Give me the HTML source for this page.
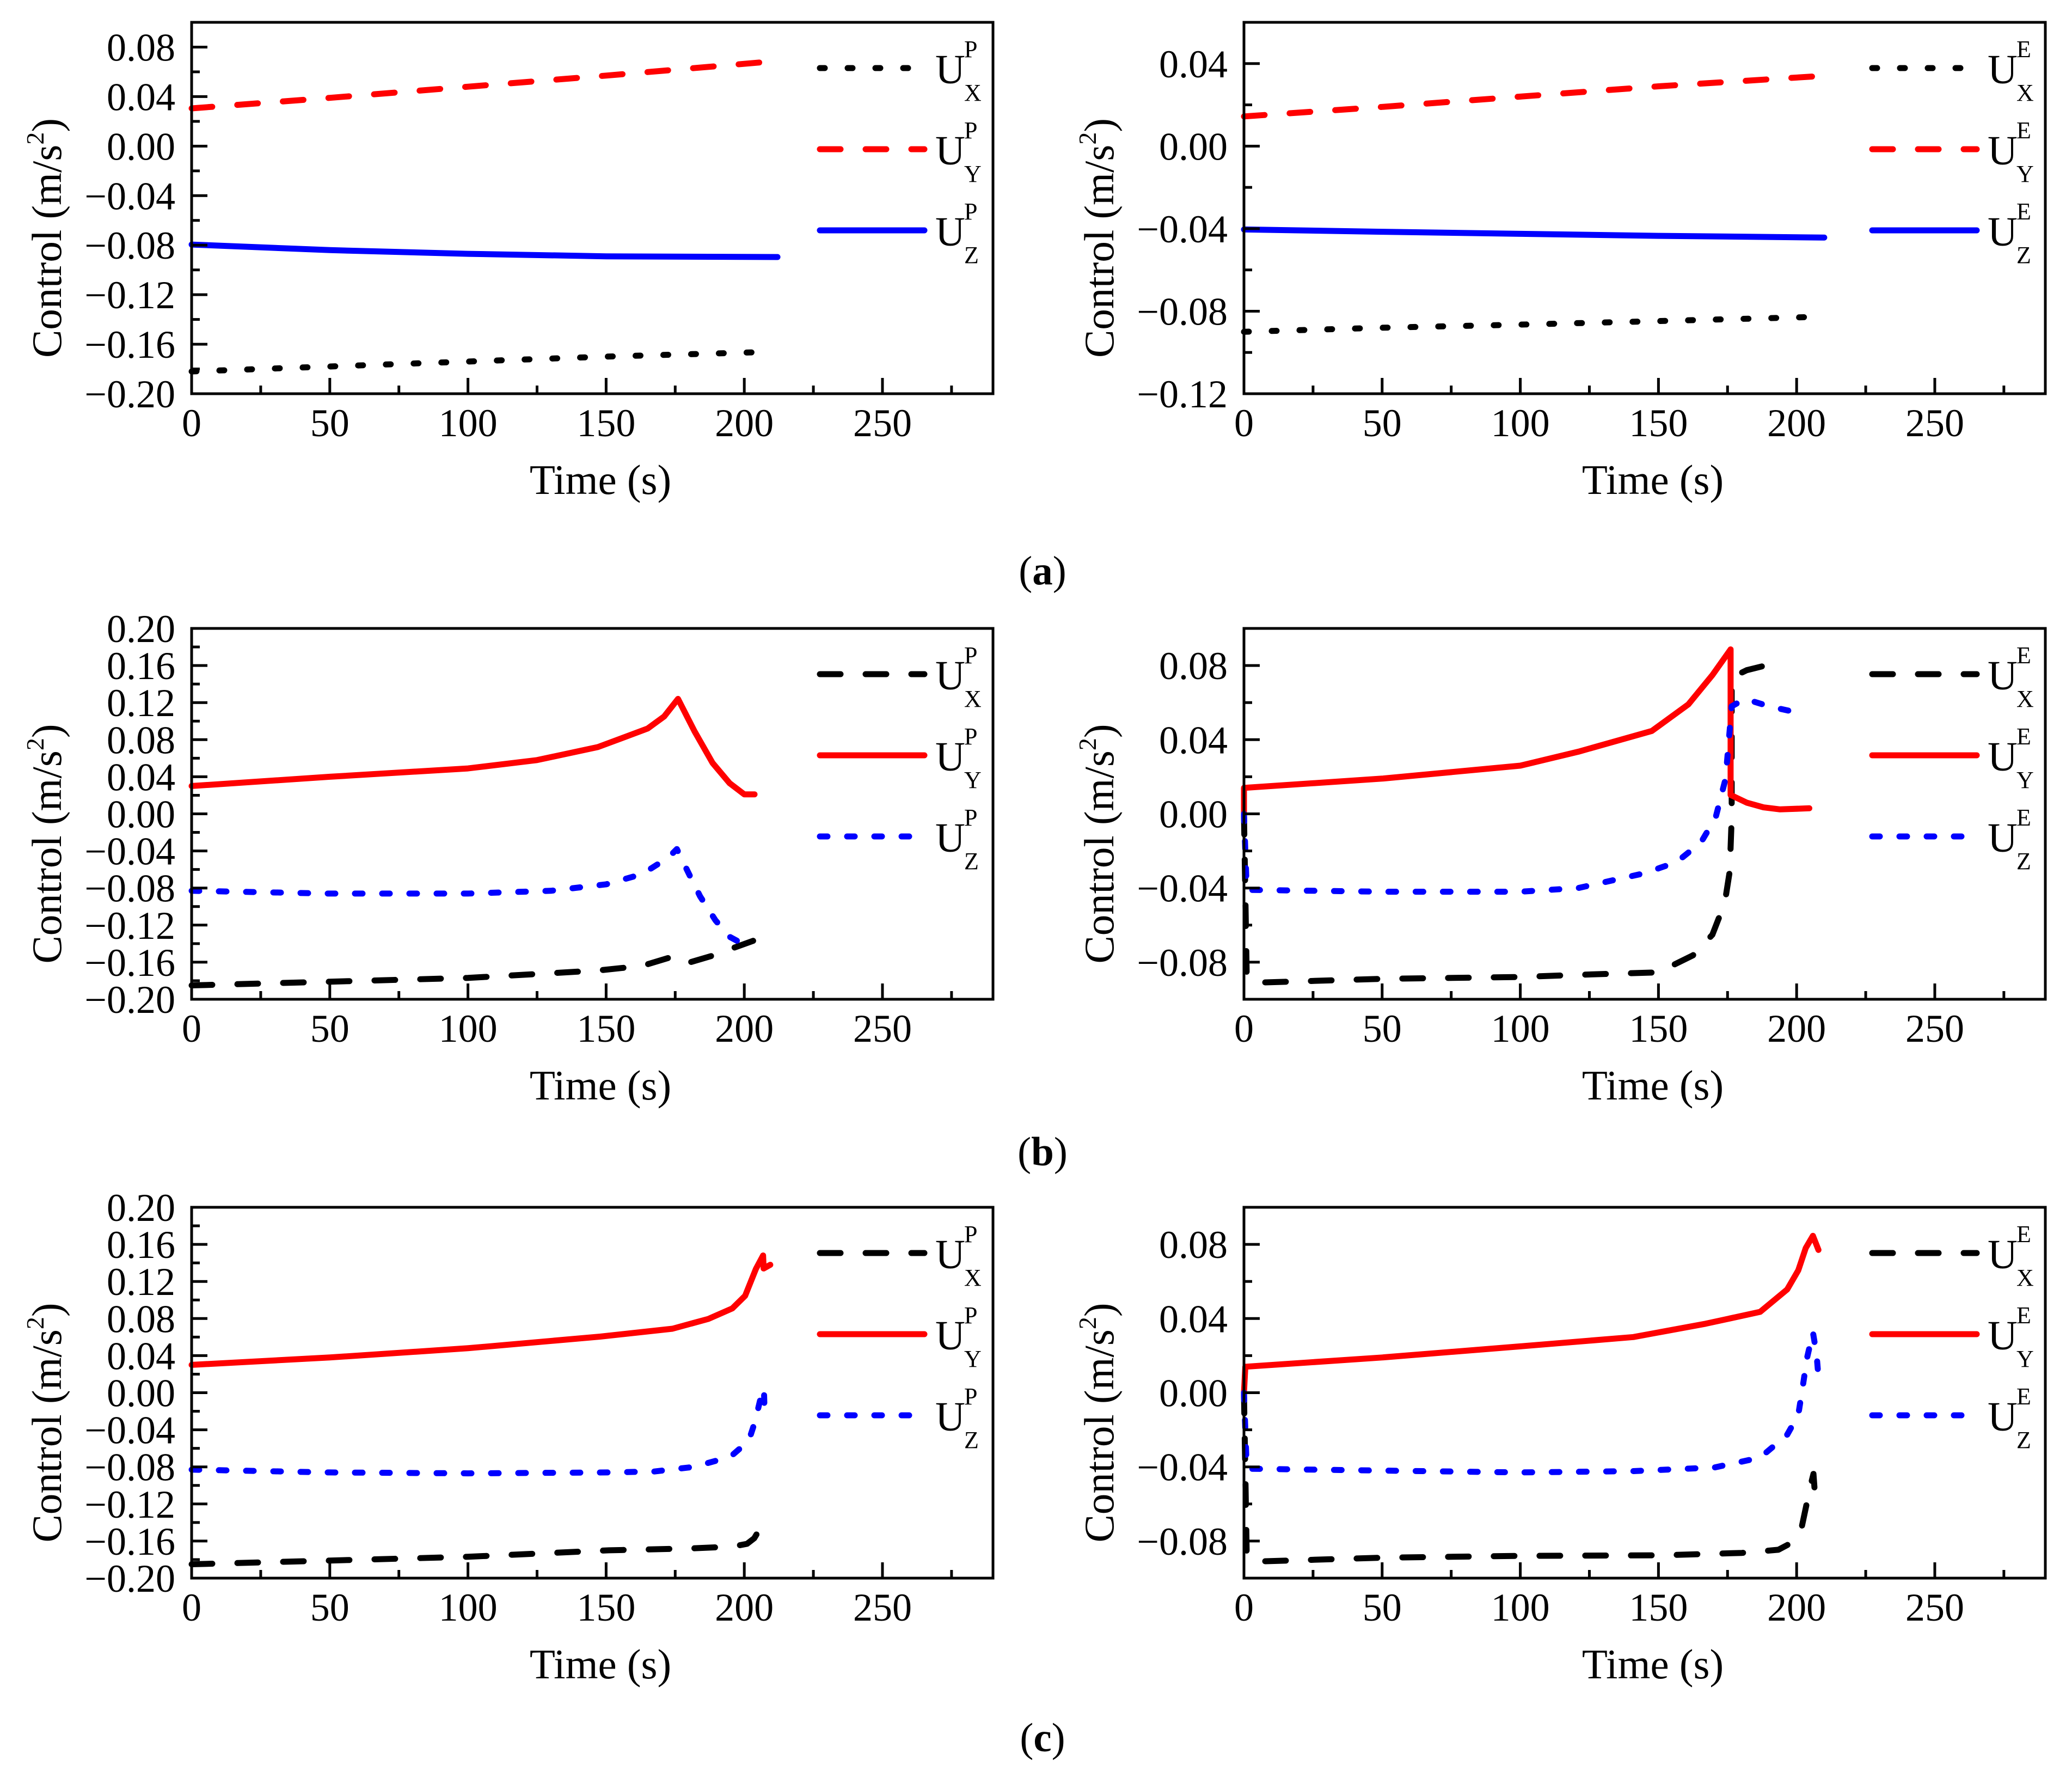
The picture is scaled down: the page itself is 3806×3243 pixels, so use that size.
<!DOCTYPE html>
<html><head><meta charset="utf-8"><title>Control histories</title>
<style>html,body{margin:0;padding:0;background:#fff}svg{display:block}text{font-family:"Liberation Serif",serif;fill:#000}</style>
</head><body>
<svg id="fig" xmlns="http://www.w3.org/2000/svg" width="3806" height="3243" viewBox="0 0 3806 3243">
<rect width="3806" height="3243" fill="#fff"/>
<text x="1915" y="1073" font-size="75" text-anchor="middle">(<tspan font-weight="bold">a</tspan>)</text>
<text x="1915" y="2140" font-size="75" text-anchor="middle">(<tspan font-weight="bold">b</tspan>)</text>
<text x="1915" y="3216" font-size="75" text-anchor="middle">(<tspan font-weight="bold">c</tspan>)</text>
</svg>
<script>
// ---- data (time in s, control in m/s^2) ----
const xTicks = [0,50,100,150,200,250];
const yTicksWide = ["0.20","0.16","0.12","0.08","0.04","0.00","-0.04","-0.08","-0.12","-0.16","-0.20"];
const yTicksAL = ["0.08","0.04","0.00","-0.04","-0.08","-0.12","-0.16","-0.20"];
const yTicksAR = ["0.04","0.00","-0.04","-0.08","-0.12"];
const yTicksNarrow = ["0.08","0.04","0.00","-0.04","-0.08"];

const aL_ux_t = [0,50,100,150,205];
const aL_ux = [-0.182,-0.178,-0.174,-0.170,-0.1665];
const aL_uy_t = [0,50,100,150,208];
const aL_uy = [0.0305,0.039,0.048,0.057,0.068];
const aL_uz_t = [0,50,100,150,212];
const aL_uz = [-0.0795,-0.084,-0.087,-0.089,-0.0896];

const aR_ux_t = [0,50,100,150,205.5];
const aR_ux = [-0.090,-0.088,-0.0865,-0.0848,-0.0828];
const aR_uy_t = [0,50,100,150,209];
const aR_uy = [0.0144,0.019,0.024,0.029,0.034];
const aR_uz_t = [0,50,100,150,210];
const aR_uz = [-0.0404,-0.0415,-0.0425,-0.0435,-0.0443];

const bL_ux_t = [0,50,100,147,163,175.2,180.5,189.6,196.6,203.2];
const bL_ux = [-0.185,-0.181,-0.177,-0.169,-0.164,-0.153,-0.160,-0.152,-0.144,-0.137];
const bL_uy_t = [0,50,100,125,147,165,171,176,182,188.5,194.7,200,203.7];
const bL_uy = [0.030,0.040,0.049,0.058,0.072,0.092,0.105,0.124,0.089,0.055,0.033,0.021,0.021];
const bL_uz_t = [0,50,100,130,150,163,172.6,175.6,180,184,189.6,194.9,202.4];
const bL_uz = [-0.083,-0.086,-0.086,-0.083,-0.076,-0.065,-0.047,-0.038,-0.065,-0.089,-0.115,-0.133,-0.145];

const bR_ux_t = [0,1,5,50,100,121,150,162.5,169.5,174,175.8,176.5,176.5,182,196.1];
const bR_ux = [0,-0.088,-0.091,-0.089,-0.088,-0.0868,-0.0855,-0.0763,-0.0652,-0.048,-0.031,-0.002,0.0735,0.0775,0.0827];
const bR_uy_t = [0,0,50,100,121,147.6,160.8,169.6,176.1,176.1,182,188,194,204.6];
const bR_uy = [0,0.014,0.019,0.026,0.0335,0.0447,0.059,0.075,0.0887,0.0102,0.006,0.0035,0.0024,0.003];
const bR_uz_t = [0,1,50,100,121,145,156.6,165.4,170.7,174.3,176.5,181.3,190,199];
const bR_uz = [0,-0.041,-0.042,-0.042,-0.040,-0.032,-0.026,-0.0154,-0.002,0.019,0.058,0.062,0.058,0.055];

const cL_ux_t = [0,50,100,151,180.5,195.7,201,203.6,205.6,207.3];
const cL_ux = [-0.185,-0.181,-0.177,-0.170,-0.168,-0.166,-0.163,-0.157,-0.147,-0.151];
const cL_uy_t = [0,50,100,147.8,174,187,195.7,200.3,204.2,206.8,207,209.4];
const cL_uy = [0.030,0.038,0.048,0.0605,0.069,0.0796,0.091,0.1045,0.1335,0.148,0.134,0.138];
const cL_uz_t = [0,50,100,151,167.4,181.8,195,201.6,203.9,205.9,207.1,207.3];
const cL_uz = [-0.083,-0.086,-0.087,-0.086,-0.085,-0.080,-0.069,-0.052,-0.031,-0.006,0.0046,-0.016];

const cR_ux_t = [0,1,5,50,100,150.7,180.2,193.4,198.6,201.9,203.6,204.9,206.1,206.9];
const cR_ux = [0,-0.088,-0.091,-0.089,-0.088,-0.0877,-0.0864,-0.0847,-0.0806,-0.0721,-0.0602,-0.051,-0.0438,-0.0602];
const cR_uy_t = [0,0.5,50,100,140.9,167.1,186.8,196.6,200.6,203.3,205.9,207.9];
const cR_uy = [0,0.014,0.019,0.025,0.030,0.0372,0.0436,0.0557,0.066,0.078,0.0846,0.077];
const cR_uz_t = [0,1,50,100,140.9,170.4,186.8,196.6,200.6,202.2,203.8,205.9,207.2,207.9];
const cR_uz = [0,-0.041,-0.042,-0.043,-0.0423,-0.0403,-0.035,-0.0226,-0.012,0.0031,0.019,0.0326,0.021,0.0083];

// ---- styles ----
const NS = "http://www.w3.org/2000/svg";
const svg = document.getElementById('fig');
const STY = {
  dotBlack: {c:'#000', d:'9 42'},
  dashRed: {c:'#f00', d:'38 46'},
  solidBlue: {c:'#00f', d:null},
  dashBlack: {c:'#000', d:'38 46'},
  solidRed: {c:'#f00', d:null},
  dotBlue: {c:'#00f', d:'14 36'}
};

function mk(tag, attrs, parent){
  const e = document.createElementNS(NS, tag);
  for (const k in attrs) e.setAttribute(k, attrs[k]);
  (parent||svg).appendChild(e);
  return e;
}

function panel(p){
  const g = mk('g', {});
  
  
  const L=p.x, T=p.y, W=p.w, H=p.h;
  const sx = t => L + t/290*W;
  const sy = v => T + (p.ymax - v)/(p.ymax - p.ymin)*H;
  p.series.forEach(s=>{
    let d='';
    s.t.forEach((t,i)=>{ d += (i?'L':'M') + sx(t).toFixed(1) + ' ' + sy(s.v[i]).toFixed(1) + ' '; });
    const st = STY[s.style];
    const path = mk('path', {d:d, fill:'none', stroke:st.c, 'stroke-width':11, 'stroke-linecap':'round', 'stroke-linejoin':'round'}, g);
    if (st.d) path.setAttribute('stroke-dasharray', st.d);
    
    
  });
  const fr = mk('rect', {x:L, y:T, width:W, height:H, fill:'none', stroke:'#000', 'stroke-width':5}, g);
  
  
  for (let t=0; t<=290; t+=25){
    const major = t%50===0;
    const tk = mk('line', {x1:sx(t), x2:sx(t), y1:T+H, y2:T+H-(major?29:15), stroke:'#000', 'stroke-width':5}, g);
    
    
  }
  xTicks.forEach(t=>{
    const lb = mk('text', {x:sx(t), y:T+H+78, 'font-size':72, 'text-anchor':'middle'}, g);
    lb.textContent = String(t);
    
    
  });
  const n = Math.round((p.ymax-p.ymin)/0.02);
  for (let i=0;i<=n;i++){
    const v = p.ymin + i*0.02;
    const major = Math.abs(Math.round(v*100)) % 4 === 0;
    const tk = mk('line', {x1:L, x2:L+(major?29:15), y1:sy(v), y2:sy(v), stroke:'#000', 'stroke-width':5}, g);
    
    
  }
  p.ylabels.forEach(s=>{
    const v = parseFloat(s);
    const lb = mk('text', {x:L-30, y:sy(v)+25, 'font-size':72, 'text-anchor':'end'}, g);
    lb.textContent = s.replace('-', '\u2212');
    
    
  });
  const xt = mk('text', {x:L+W/2+15, y:T+H+184, 'font-size':77, 'text-anchor':'middle'}, g);
  xt.textContent = 'Time (s)';
  
  
  const cx = L-240, cy = T+H/2+55;
  const yt = mk('text', {x:cx, y:cy, 'font-size':77, 'text-anchor':'middle', transform:'rotate(-90 '+cx+' '+cy+')'}, g);
  yt.innerHTML = 'Control (m/s<tspan dy="-32" font-size="46">2</tspan><tspan dy="32">)</tspan>';
  
  
  const subs = ['X','Y','Z'];
  p.series.forEach((s,i)=>{
    const ly = T + 84 + i*149;
    const st = STY[s.style];
    const ll = mk('line', {x1:L+1154, x2:L+1346, y1:ly, y2:ly, stroke:st.c, 'stroke-width':11, 'stroke-linecap':'round'}, g);
    if (st.d) ll.setAttribute('stroke-dasharray', st.d);
    
    
    const u = mk('text', {x:L+1366, y:ly+28, 'font-size':76}, g);
    u.textContent = 'U';
    
    
    const sp = mk('text', {x:L+1419, y:ly-20, 'font-size':44}, g);
    sp.textContent = p.sup;
    
    
    const sb = mk('text', {x:L+1419, y:ly+60, 'font-size':44}, g);
    sb.textContent = subs[i];
    
    
  });
}

const LX = 352, RX = 2285, PW = 1472;
panel({name:'panel-a-pursuer', x:LX, y:41, w:PW, h:682, ymin:-0.2, ymax:0.1, ylabels:yTicksAL, sup:'P',
  series:[{name:'series-ux',style:'dotBlack',t:aL_ux_t,v:aL_ux},{name:'series-uy',style:'dashRed',t:aL_uy_t,v:aL_uy},{name:'series-uz',style:'solidBlue',t:aL_uz_t,v:aL_uz}]});
panel({name:'panel-a-evader', x:RX, y:41, w:PW, h:682, ymin:-0.12, ymax:0.06, ylabels:yTicksAR, sup:'E',
  series:[{name:'series-ux',style:'dotBlack',t:aR_ux_t,v:aR_ux},{name:'series-uy',style:'dashRed',t:aR_uy_t,v:aR_uy},{name:'series-uz',style:'solidBlue',t:aR_uz_t,v:aR_uz}]});
panel({name:'panel-b-pursuer', x:LX, y:1154, w:PW, h:681, ymin:-0.2, ymax:0.2, ylabels:yTicksWide, sup:'P',
  series:[{name:'series-ux',style:'dashBlack',t:bL_ux_t,v:bL_ux},{name:'series-uy',style:'solidRed',t:bL_uy_t,v:bL_uy},{name:'series-uz',style:'dotBlue',t:bL_uz_t,v:bL_uz}]});
panel({name:'panel-b-evader', x:RX, y:1154, w:PW, h:681, ymin:-0.1, ymax:0.1, ylabels:yTicksNarrow, sup:'E',
  series:[{name:'series-ux',style:'dashBlack',t:bR_ux_t,v:bR_ux},{name:'series-uy',style:'solidRed',t:bR_uy_t,v:bR_uy},{name:'series-uz',style:'dotBlue',t:bR_uz_t,v:bR_uz}]});
panel({name:'panel-c-pursuer', x:LX, y:2217, w:PW, h:681, ymin:-0.2, ymax:0.2, ylabels:yTicksWide, sup:'P',
  series:[{name:'series-ux',style:'dashBlack',t:cL_ux_t,v:cL_ux},{name:'series-uy',style:'solidRed',t:cL_uy_t,v:cL_uy},{name:'series-uz',style:'dotBlue',t:cL_uz_t,v:cL_uz}]});
panel({name:'panel-c-evader', x:RX, y:2217, w:PW, h:681, ymin:-0.1, ymax:0.1, ylabels:yTicksNarrow, sup:'E',
  series:[{name:'series-ux',style:'dashBlack',t:cR_ux_t,v:cR_ux},{name:'series-uy',style:'solidRed',t:cR_uy_t,v:cR_uy},{name:'series-uz',style:'dotBlue',t:cR_uz_t,v:cR_uz}]});
</script>
</body></html>
